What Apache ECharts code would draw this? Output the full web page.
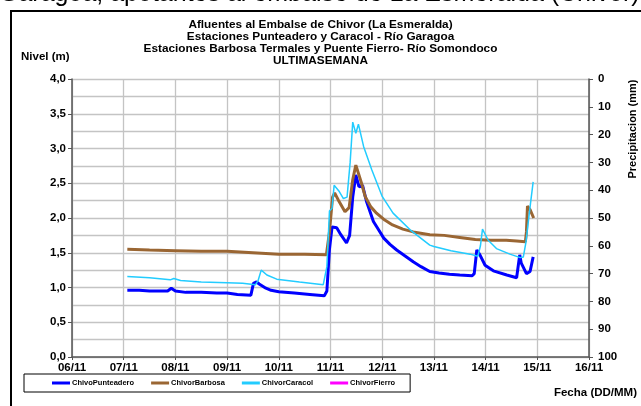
<!DOCTYPE html>
<html>
<head>
<meta charset="utf-8">
<script src="https://cdn.jsdelivr.net/npm/echarts@6/dist/echarts.min.js"></script>
<style>
html,body{margin:0;padding:0;background:#fff;}
#chart{width:641px;height:406px;}
</style>
</head>
<body>
<div id="chart"></div>
<script>
// ---- data (day of November, level in m) ----
var punteaderoDays   = [7.07,7.3,7.5,7.7,7.85,7.92,8.0,8.2,8.5,8.8,9.0,9.2,9.46,9.51,9.57,9.62,9.75,9.85,10.0,10.3,10.6,10.88,10.93,10.98,11.03,11.12,11.2,11.31,11.37,11.43,11.49,11.55,11.62,11.7,11.83,11.93,12.03,12.15,12.28,12.45,12.6,12.75,12.92,13.1,13.3,13.5,13.74,13.78,13.83,13.89,13.99,14.15,14.41,14.6,14.63,14.66,14.69,14.79,14.86,14.92];
var punteaderoLevels = [0.96,0.96,0.95,0.95,0.95,0.99,0.95,0.93,0.93,0.92,0.92,0.90,0.89,1.06,1.08,1.05,0.99,0.96,0.94,0.92,0.90,0.88,0.95,1.55,1.87,1.86,1.76,1.64,1.75,2.30,2.62,2.45,2.47,2.23,1.95,1.83,1.71,1.62,1.54,1.45,1.37,1.30,1.23,1.21,1.19,1.18,1.17,1.20,1.54,1.47,1.32,1.24,1.18,1.14,1.15,1.47,1.35,1.20,1.23,1.44];

var barbosaDays   = [7.07,7.5,8.0,8.5,9.0,9.5,10.0,10.5,10.92,10.98,11.04,11.08,11.15,11.28,11.36,11.43,11.49,11.55,11.6,11.67,11.78,11.89,12.05,12.2,12.4,12.6,12.92,13.2,13.5,13.8,14.1,14.4,14.6,14.77,14.79,14.81,14.86,14.93];
var barbosaLevels = [1.55,1.54,1.53,1.52,1.52,1.50,1.48,1.48,1.47,1.80,2.30,2.36,2.26,2.09,2.15,2.55,2.76,2.62,2.50,2.31,2.16,2.07,1.97,1.90,1.84,1.80,1.76,1.75,1.72,1.69,1.68,1.68,1.67,1.66,1.80,2.17,2.12,2.00];

var caracolDays   = [7.07,7.5,7.9,7.97,8.1,8.5,9.0,9.3,9.55,9.6,9.66,9.77,9.96,10.4,10.86,10.93,10.98,11.03,11.07,11.1,11.17,11.25,11.32,11.38,11.43,11.49,11.54,11.64,11.8,12.0,12.21,12.54,12.92,13.0,13.33,13.7,13.85,13.9,13.94,14.05,14.21,14.47,14.67,14.73,14.78,14.85,14.92];
var caracolLevels = [1.16,1.14,1.11,1.13,1.10,1.08,1.07,1.06,1.04,1.10,1.25,1.18,1.12,1.08,1.04,1.30,2.10,2.14,2.47,2.49,2.38,2.28,2.30,2.80,3.38,3.22,3.35,3.03,2.69,2.31,2.07,1.83,1.61,1.59,1.53,1.48,1.45,1.60,1.84,1.68,1.56,1.48,1.43,1.44,1.65,2.10,2.52];

var fierroDays   = [];
var fierroLevels = [];

var seriesNames = ['ChivoPunteadero','ChivorBarbosa','ChivorCaracol','ChivorFierro'];
var titleLines = ['Afluentes al Embalse de Chivor (La Esmeralda)','Estaciones Punteadero y Caracol - Río Garagoa','Estaciones Barbosa Termales y Puente Fierro- Río Somondoco','ULTIMASEMANA'];

function pairs(xs, ys){ return xs.map(function(x,i){ return [x, ys[i]]; }); }

var FONT = '"Liberation Sans", Arial, sans-serif';
var chart = echarts.init(document.getElementById('chart'), null, {renderer:'canvas'});
chart.setOption({
  animation:false,
  backgroundColor:'#fff',
  textStyle:{fontFamily:FONT},
  title:{
    text: titleLines.join('\n'),
    left:'center', top:19, padding:0,
    textStyle:{fontFamily:FONT, fontSize:11.8, fontWeight:'bold', color:'#000', lineHeight:12}
  },
  graphic:[
    {type:'rect', shape:{x:11, y:11, width:700, height:500}, style:{fill:'none', stroke:'#000', lineWidth:2}, z:-1},
    {type:'text', x:-1, y:-6, style:{text:'Garagoa, apotantes al embalse de La Esmeralda (Chivor)', font:'25px '+FONT, fill:'#000', textVerticalAlign:'middle'}},
    {type:'text', x:21, y:57, style:{text:'Nivel (m)', font:'bold 11.5px '+FONT, fill:'#000', textVerticalAlign:'middle'}},
    {type:'text', x:637, y:393, style:{text:'Fecha (DD/MM)', font:'bold 11.5px '+FONT, fill:'#000', textAlign:'right', textVerticalAlign:'middle'}},
    {type:'text', x:633, y:129, rotation:Math.PI/2, style:{text:'Precipitacion (mm)', font:'bold 11px '+FONT, fill:'#000', textAlign:'center', textVerticalAlign:'middle'}}
  ],
  legend:{
    data: seriesNames,
    left:24, top:374,
    orient:'horizontal',
    itemWidth:18, itemHeight:3, itemGap:17,
    icon:'rect',
    borderColor:'#000', borderWidth:1,
    padding:[5,15,5,28],
    textStyle:{fontFamily:FONT, fontSize:7.5, fontWeight:'bold', color:'#000', padding:[0,0,0,-3]}
  },
  grid:{left:72, right:52, top:79, bottom:49, containLabel:false},
  xAxis:{
    type:'value', min:6, max:16, interval:1,
    axisLine:{show:true, lineStyle:{color:'#555', width:1.5}},
    axisTick:{show:true, inside:false, length:3, lineStyle:{color:'#555'}},
    axisLabel:{margin:5, fontFamily:FONT, fontSize:11.5, fontWeight:'bold', color:'#000',
      formatter:function(v){ return (v<10?'0':'')+v+'/11'; }},
    splitLine:{show:true, lineStyle:{color:'#c4c4c4', width:1.3}}
  },
  yAxis:[
    {
      type:'value', min:0, max:4, interval:0.5, position:'left',
      axisLine:{show:true, onZero:false, lineStyle:{color:'#555', width:1.5}},
      axisTick:{show:true, inside:false, length:4, lineStyle:{color:'#555'}},
      axisLabel:{margin:6, fontFamily:FONT, fontSize:11.5, fontWeight:'bold', color:'#000',
        formatter:function(v){ return v.toFixed(1).replace('.',','); }},
      splitLine:{show:true, lineStyle:{color:'#c4c4c4', width:1.3}},
      minorTick:{show:false, splitNumber:2},
      minorSplitLine:{show:true, lineStyle:{color:'#c4c4c4', width:1.3}}
    },
    {
      type:'value', min:0, max:100, interval:10, inverse:true, position:'right',
      axisLine:{show:true, onZero:false, lineStyle:{color:'#555', width:1.5}},
      axisTick:{show:true, inside:false, length:4, lineStyle:{color:'#555'}},
      axisLabel:{margin:9, fontFamily:FONT, fontSize:11.5, fontWeight:'bold', color:'#000'},
      splitLine:{show:false}
    }
  ],
  series:[
    {name:seriesNames[0], type:'line', yAxisIndex:0, showSymbol:false, data:pairs(punteaderoDays,punteaderoLevels),
      lineStyle:{color:'#0000ff', width:3}, itemStyle:{color:'#0000ff'}},
    {name:seriesNames[1], type:'line', yAxisIndex:0, showSymbol:false, data:pairs(barbosaDays,barbosaLevels),
      lineStyle:{color:'#9a6633', width:3}, itemStyle:{color:'#9a6633'}},
    {name:seriesNames[2], type:'line', yAxisIndex:0, showSymbol:false, data:pairs(caracolDays,caracolLevels),
      lineStyle:{color:'#22ccff', width:1.5}, itemStyle:{color:'#22ccff'}},
    {name:seriesNames[3], type:'line', yAxisIndex:0, showSymbol:false, data:pairs(fierroDays,fierroLevels),
      lineStyle:{color:'#ff00ff', width:3}, itemStyle:{color:'#ff00ff'}}
  ]
});
</script>
</body>
</html>
